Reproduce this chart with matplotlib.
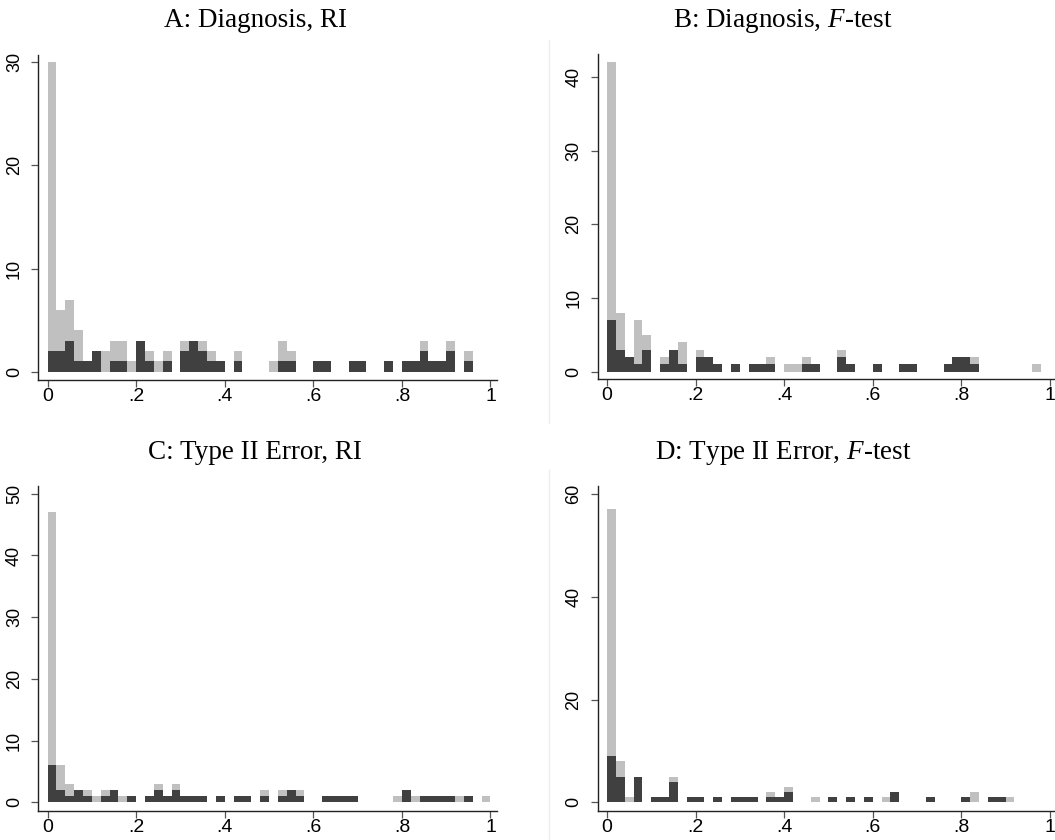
import matplotlib
matplotlib.use("Agg")
import matplotlib.pyplot as plt
from matplotlib.lines import Line2D
import numpy as np

plt.rcParams['mathtext.fontset'] = 'custom'
plt.rcParams['mathtext.rm'] = 'Liberation Serif'
plt.rcParams['mathtext.it'] = 'Liberation Serif:italic'

# bin counts, 50 bins of width .02 on [0, 1]
a_light = [30, 6, 7, 4, 1, 2, 2, 3, 3, 1, 3, 2, 1, 2, 0, 3, 3, 3, 2, 1, 0, 2, 0, 0, 0,
           1, 3, 2, 0, 0, 1, 1, 0, 0, 1, 1, 0, 0, 1, 0, 1, 1, 3, 1, 1, 3, 0, 2, 0, 0]
a_dark = [2, 2, 3, 1, 1, 2, 0, 1, 1, 0, 3, 1, 0, 1, 0, 2, 3, 2, 1, 1, 0, 1, 0, 0, 0,
          0, 1, 1, 0, 0, 1, 1, 0, 0, 1, 1, 0, 0, 1, 0, 1, 1, 2, 1, 1, 2, 0, 1, 0, 0]

b_light = [42, 8, 2, 7, 5, 0, 2, 3, 4, 0, 3, 2, 1, 0, 1, 0, 1, 1, 2, 0, 1, 1, 2, 1, 0,
           0, 3, 1, 0, 0, 1, 0, 0, 1, 1, 0, 0, 0, 1, 2, 2, 2, 0, 0, 0, 0, 0, 0, 1, 0]
b_dark = [7, 3, 2, 1, 3, 0, 1, 3, 1, 0, 2, 2, 1, 0, 1, 0, 1, 1, 1, 0, 0, 0, 1, 1, 0,
          0, 2, 1, 0, 0, 1, 0, 0, 1, 1, 0, 0, 0, 1, 2, 2, 1, 0, 0, 0, 0, 0, 0, 0, 0]

c_light = [47, 6, 3, 2, 2, 1, 2, 2, 1, 1, 0, 1, 3, 1, 3, 1, 1, 1, 0, 1, 0, 1, 1, 0, 2,
           0, 2, 2, 2, 0, 0, 1, 1, 1, 1, 0, 0, 0, 0, 1, 2, 1, 1, 1, 1, 1, 1, 1, 0, 1]
c_dark = [6, 2, 1, 2, 1, 0, 1, 2, 0, 1, 0, 1, 2, 1, 2, 1, 1, 1, 0, 1, 0, 1, 1, 0, 1,
          0, 1, 2, 1, 0, 0, 1, 1, 1, 1, 0, 0, 0, 0, 0, 2, 0, 1, 1, 1, 1, 0, 1, 0, 0]

d_light = [57, 8, 1, 5, 0, 1, 1, 5, 0, 1, 1, 0, 1, 0, 1, 1, 1, 0, 2, 1, 3, 0, 0, 1, 0,
           1, 0, 1, 0, 1, 0, 1, 2, 0, 0, 0, 1, 0, 0, 0, 1, 2, 0, 1, 1, 1, 0, 0, 0, 0]
d_dark = [9, 5, 0, 5, 0, 1, 1, 4, 0, 1, 1, 0, 1, 0, 1, 1, 1, 0, 1, 1, 2, 0, 0, 0, 0,
          1, 0, 1, 0, 1, 0, 0, 2, 0, 0, 0, 1, 0, 0, 0, 1, 0, 0, 1, 1, 0, 0, 0, 0, 0]

titles = ['A: Diagnosis, RI', r'B: Diagnosis, $\mathit{F}$-test',
          'C: Type II Error, RI', r'D: Type II Error, $\mathit{F}$-test']
xticks = [0, .2, .4, .6, .8, 1]
xticklabels = ['0', '.2', '.4', '.6', '.8', '1']
yticks_list = [[0, 10, 20, 30], [0, 10, 20, 30, 40],
               [0, 10, 20, 30, 40, 50], [0, 20, 40, 60]]
ylims = [(-0.8, 30.7), (-1.0, 43.1), (-1.36, 51.3), (-1.63, 61.6)]

W, H = 1055, 840
fig = plt.figure(figsize=(W / 100, H / 100), dpi=100)

# axes rectangles in pixels: left, bottom(from top), width, top(from top)
rects = [(38.3, 380, 458.4, 55), (597.7, 379, 458.4, 54),
         (38.3, 810.7, 458.4, 485.7), (597.7, 810.7, 458.4, 485.7)]
title_pos = [(255, 27), (783, 27), (255, 459), (783, 459)]

light_col = '#c0c0c0'
dark_col = '#404040'
edges = np.arange(50) * 0.02

panels = [(a_light, a_dark), (b_light, b_dark), (c_light, c_dark), (d_light, d_dark)]

for i, (light, dark) in enumerate(panels):
    l, b, w, t = rects[i]
    ax = fig.add_axes([l / W, 1 - b / H, w / W, (b - t) / H])
    ax.bar(edges, light, width=0.02, align='edge', color=light_col, linewidth=0)
    ax.bar(edges, dark, width=0.02, align='edge', color=dark_col, linewidth=0)
    ax.set_xlim(-0.021, 1.014)
    ax.set_ylim(*ylims[i])
    for s in ['top', 'right']:
        ax.spines[s].set_visible(False)
    for s in ['left', 'bottom']:
        ax.spines[s].set_color('#222222')
        ax.spines[s].set_linewidth(1.0)
    ax.set_xticks(xticks)
    ax.set_xticklabels(xticklabels, family='Liberation Sans', fontsize=14)
    ax.set_yticks(yticks_list[i])
    ax.set_yticklabels([str(v) for v in yticks_list[i]], family='Liberation Sans',
                       fontsize=13, rotation=90, va='center')
    ax.tick_params(axis='both', length=5, width=0.9, color='#555555')
    ax.tick_params(axis='x', pad=1)
    ax.tick_params(axis='y', pad=6)
    tx, ty = title_pos[i]
    fig.text(tx / W, 1 - ty / H, titles[i], family='Liberation Serif', fontsize=19.5,
             ha='center', va='baseline')

# faint panel borders of the combined graph
for y0, y1 in [(40, 423), (470, 840)]:
    fig.add_artist(Line2D([549 / W, 549 / W], [1 - y0 / H, 1 - y1 / H],
                          color='#e8f0f2', linewidth=1.0))

fig.savefig('out.png', dpi=100, facecolor='white')
